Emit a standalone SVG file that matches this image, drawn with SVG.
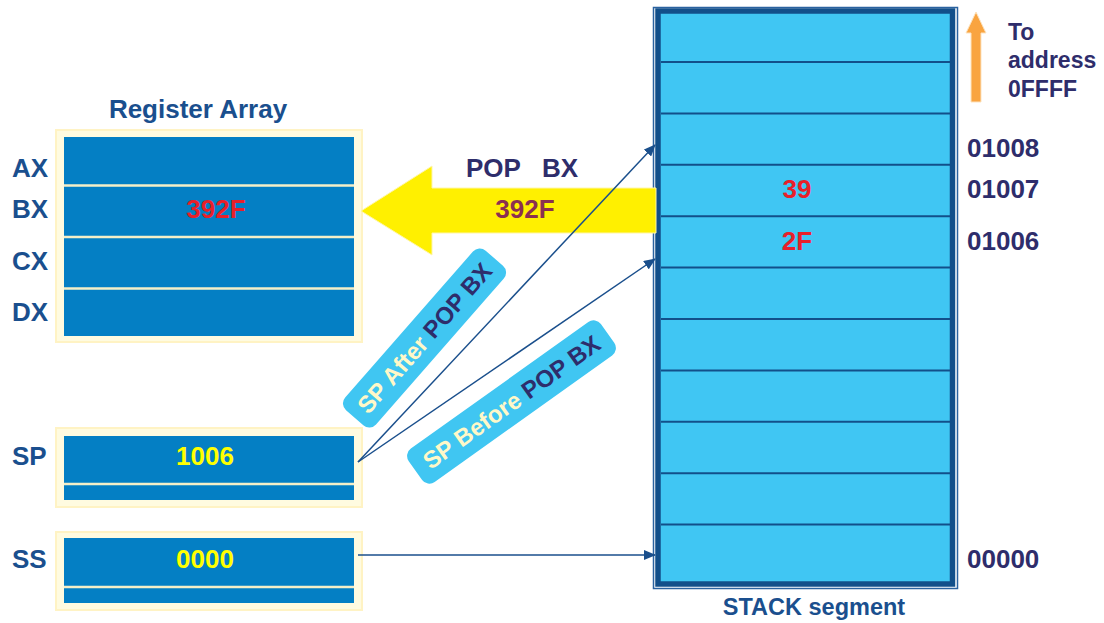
<svg xmlns="http://www.w3.org/2000/svg" width="1104" height="623" viewBox="0 0 1104 623">
<defs>
<style>
text{font-family:"Liberation Sans",Arial,sans-serif;font-weight:bold}
.lbl{fill:#1a4f8e;font-size:26px}
.navy{fill:#2e2d6b}
.addr{fill:#2e2d6b;font-size:26px}
.red{fill:#e8202a;font-size:26px}
.yel{fill:#ffff00;font-size:26px}
.frame{fill:#fffbe0;stroke:#fff3c4;stroke-width:2}
.reg{fill:#047fc4}
.div{stroke:#f4efc8;stroke-width:2.5}
.sdiv{stroke:#124f8a;stroke-width:2}
.conn{stroke:#1a4f8c;stroke-width:1.5;fill:none}
.tag{fill:#40c6f2}
.cream{fill:#fff8c8}
</style>
<marker id="ah" markerWidth="12" markerHeight="10" refX="11" refY="5" orient="auto" markerUnits="userSpaceOnUse">
<path d="M0,0 L12,5 L0,10 Z" fill="#1a4f8c"/>
</marker>
</defs>
<rect width="1104" height="623" fill="#ffffff"/>

<g id="register-array">
<text x="198" y="118" class="lbl" text-anchor="middle">Register Array</text>
<rect x="56" y="130" width="306" height="212" class="frame"/>
<rect x="64" y="137" width="290" height="199" class="reg"/>
<line x1="64" y1="185.5" x2="354" y2="185.5" class="div"/>
<line x1="64" y1="237" x2="354" y2="237" class="div"/>
<line x1="64" y1="288.5" x2="354" y2="288.5" class="div"/>
<text x="12" y="177" class="lbl">AX</text>
<text x="12" y="218" class="lbl">BX</text>
<text x="12" y="270" class="lbl">CX</text>
<text x="12" y="321" class="lbl">DX</text>
<text x="216" y="218" class="red" text-anchor="middle">392F</text>
</g>

<g id="sp-register">
<rect x="56" y="428" width="306" height="79" class="frame"/>
<rect x="64" y="436" width="290" height="64" class="reg"/>
<line x1="64" y1="484" x2="354" y2="484" class="div"/>
<text x="12" y="465" class="lbl">SP</text>
<text x="205" y="465" class="yel" text-anchor="middle">1006</text>
</g>

<g id="ss-register">
<rect x="56" y="532" width="306" height="78" class="frame"/>
<rect x="64" y="538" width="290" height="65" class="reg"/>
<line x1="64" y1="587" x2="354" y2="587" class="div"/>
<text x="12" y="568" class="lbl">SS</text>
<text x="205" y="568" class="yel" text-anchor="middle">0000</text>
</g>

<g id="stack-segment">
<rect x="653.5" y="7.5" width="304" height="581" fill="#ffffff" stroke="#2a62a0" stroke-width="1.5"/>
<rect x="658" y="11" width="294.5" height="573" fill="#40c6f3" stroke="#124f8a" stroke-width="5.5"/>
<line x1="661" y1="62" x2="950" y2="62" class="sdiv"/>
<line x1="661" y1="113.4" x2="950" y2="113.4" class="sdiv"/>
<line x1="661" y1="164.8" x2="950" y2="164.8" class="sdiv"/>
<line x1="661" y1="216.2" x2="950" y2="216.2" class="sdiv"/>
<line x1="661" y1="267.6" x2="950" y2="267.6" class="sdiv"/>
<line x1="661" y1="319" x2="950" y2="319" class="sdiv"/>
<line x1="661" y1="370.4" x2="950" y2="370.4" class="sdiv"/>
<line x1="661" y1="421.8" x2="950" y2="421.8" class="sdiv"/>
<line x1="661" y1="473.2" x2="950" y2="473.2" class="sdiv"/>
<line x1="661" y1="524.6" x2="950" y2="524.6" class="sdiv"/>
<text x="797" y="198" class="red" text-anchor="middle">39</text>
<text x="797" y="250" class="red" text-anchor="middle">2F</text>
<text x="814" y="615" class="lbl" style="font-size:23.5px" text-anchor="middle">STACK segment</text>
</g>

<g id="addresses">
<text x="967" y="157" class="addr">01008</text>
<text x="967" y="198" class="addr">01007</text>
<text x="967" y="250" class="addr">01006</text>
<text x="967" y="568" class="addr">00000</text>
</g>

<g id="to-address">
<path d="M976,12 L986,33 L981,33 L981,102 L971,102 L971,33 L966,33 Z" fill="#f9a440" stroke="#fde3bf" stroke-width="1"/>
<text x="1008" y="40" class="navy" style="font-size:23px">To</text>
<text x="1008" y="68" class="navy" style="font-size:23px">address</text>
<text x="1008" y="97" class="navy" style="font-size:23px">0FFFF</text>
</g>

<g id="pop-arrow">
<path d="M361,211 L432,166 L432,188 L656,188 L656,233 L432,233 L432,255 Z" fill="#fff000" stroke="#fff6a8" stroke-width="1"/>
<text x="522" y="177" class="navy" style="font-size:26px" text-anchor="middle" xml:space="preserve">POP   BX</text>
<text x="525" y="218" style="font-size:26px;fill:#8b3050" text-anchor="middle">392F</text>
</g>

<g id="connectors">
<line x1="358" y1="462" x2="655" y2="145" class="conn" marker-end="url(#ah)"/>
<line x1="358" y1="462" x2="655" y2="259" class="conn" marker-end="url(#ah)"/>
<line x1="358" y1="555" x2="655" y2="555" class="conn" marker-end="url(#ah)"/>
</g>

<g id="tag-after" transform="translate(424.5,338) rotate(-48.8)">
<rect x="-106" y="-20.5" width="212" height="41" rx="9" class="tag"/>
<text x="0" y="8.5" style="font-size:24px" text-anchor="middle"><tspan class="cream">SP After </tspan><tspan class="navy">POP BX</tspan></text>
</g>

<g id="tag-before" transform="translate(511.5,402) rotate(-35.5)">
<rect x="-118" y="-20.5" width="236" height="41" rx="9" class="tag"/>
<text x="0" y="8.5" style="font-size:24px" text-anchor="middle"><tspan class="cream">SP Before </tspan><tspan class="navy">POP BX</tspan></text>
</g>
</svg>
